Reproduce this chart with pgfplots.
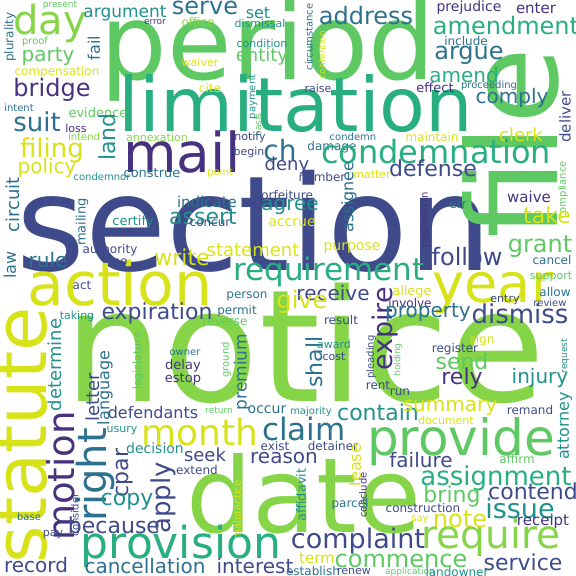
\documentclass[border=0pt]{standalone}
\usepackage{pgfplots}
\pgfplotsset{compat=1.18}
\usepackage{fontspec}
\setmainfont{DejaVu Sans}
\definecolor{P}{HTML}{46327E}
\definecolor{B}{HTML}{3E4A89}
\definecolor{E}{HTML}{2C718E}
\definecolor{T}{HTML}{21918C}
\definecolor{M}{HTML}{28AE80}
\definecolor{G}{HTML}{5EC962}
\definecolor{L}{HTML}{86D549}
\definecolor{Y}{HTML}{D8E219}
\newcommand\W[6]{\node[rotate=#4,text=#5,inner sep=0pt,anchor=center,font=\fontsize{#3bp}{#3bp}\selectfont] at (axis cs:#1,#2) {#6};}
\newcommand\B[5]{\node[text=#4,inner sep=0pt,anchor=base,font=\fontsize{#3bp}{#3bp}\selectfont] at (axis cs:#1,#2) {#5};}
\begin{document}
\begin{tikzpicture}
\begin{axis}[hide axis, scale only axis, width=576bp, height=576bp,
  xmin=0,xmax=576,ymin=0,ymax=576,y dir=reverse, clip=false]
\addplot[draw=none] coordinates {(0,0) (576,576)};
% big words
\B{254}{270}{132}{B}{section}
\B{305}{401}{156}{L}{notice}
\B{268}{80}{105}{G}{period}
\B{296}{131}{75}{M}{limitation}
\W{511}{143}{125}{90}{G}{file}
\B{304}{532}{104}{L}{date}
\W{22}{435}{72}{90}{Y}{statute}
\B{120}{305}{60}{Y}{action}
\B{493}{302}{54}{Y}{year}
\B{461}{455}{50}{G}{provide}
\B{182}{172}{55}{P}{mail}
\B{181}{558}{44}{M}{provision}
\B{491}{548}{39}{L}{require}
\B{50}{35}{40}{L}{day}
\B{329}{280}{31}{M}{requirement}
\W{61}{476}{37}{90}{P}{motion}
\W{95}{475}{40}{90}{E}{right}
\B{200}{445}{36}{Y}{month}
\B{304}{440}{31}{E}{claim}
\W{385}{329}{27}{90}{P}{expire}
\W{163}{498}{26}{90}{B}{apply}
\W{125}{473}{22}{90}{B}{cpar}
% top-left
\W{60}{5}{9}{0}{G}{present}
\W{125}{13}{17}{0}{T}{argument}
\W{205}{8}{24}{0}{E}{serve}
\W{258}{13}{16}{0}{T}{set}
\W{10}{37}{12}{90}{E}{plurality}
\W{155}{22}{9}{0}{P}{error}
\W{198}{22}{12}{0}{L}{office}
\W{260}{23}{11}{0}{T}{dismissal}
\W{35}{42}{10}{0}{G}{proof}
\W{48}{57}{20}{0}{G}{party}
\W{94}{48}{16}{90}{E}{fail}
\W{200}{62}{11}{0}{Y}{waiver}
\W{262}{43}{11}{0}{T}{condition}
\W{262}{57}{18}{0}{G}{entity}
\W{57}{72}{12}{0}{Y}{compensation}
\W{52}{90}{24}{0}{P}{bridge}
\W{210}{88}{12}{0}{Y}{cite}
\W{253}{97}{10}{90}{T}{payment}
\W{19}{108}{10}{0}{E}{intent}
\W{98}{113}{13}{0}{G}{evidence}
\W{37}{122}{26}{0}{E}{suit}
\W{107}{137}{22}{90}{T}{land}
\W{258}{125}{9}{90}{G}{basis}
\W{76}{128}{11}{0}{P}{loss}
\W{84}{137}{10}{0}{L}{intend}
\W{157}{137}{11}{0}{L}{annexation}
\W{250}{137}{11}{0}{B}{notify}
\W{52}{150}{26}{0}{Y}{filing}
\W{249}{152}{11}{0}{B}{begin}
\W{280}{150}{28}{0}{E}{ch}
\W{47}{168}{20}{0}{Y}{policy}
\W{102}{177}{10}{0}{T}{condemnor}
\W{152}{173}{13}{0}{E}{construe}
\W{220}{173}{10}{0}{Y}{point}
\W{287}{166}{18}{0}{B}{deny}
\W{13}{205}{18}{90}{E}{circuit}
\W{82}{222}{13}{90}{E}{mailing}
\W{207}{202}{15}{0}{E}{indicate}
\W{285}{195}{12}{0}{B}{forfeiture}
\W{203}{217}{22}{0}{T}{assert}
\W{290}{207}{20}{0}{T}{agree}
\W{133}{222}{13}{0}{T}{certify}
\W{210}{223}{12}{0}{B}{concur}
\W{292}{223}{14}{0}{Y}{accrue}
\W{110}{250}{12}{0}{B}{authority}
\W{120}{262}{12}{0}{B}{no}
\W{48}{260}{20}{0}{E}{rule}
\W{182}{257}{22}{0}{Y}{write}
\W{253}{250}{18}{0}{Y}{statement}
\W{10}{265}{16}{90}{E}{law}
\W{82}{285}{12}{0}{B}{act}
% top-right
\W{366}{16}{24}{0}{E}{address}
\W{469}{8}{14}{0}{P}{prejudice}
\W{536}{8}{15}{0}{P}{enter}
\W{309}{37}{10}{90}{E}{circumstance}
\W{322}{55}{9}{90}{Y}{contention}
\W{506}{26}{24}{0}{M}{amendment}
\W{466}{41}{12}{0}{E}{include}
\W{469}{55}{24}{0}{E}{argue}
\W{464}{75}{20}{0}{M}{amend}
\W{318}{88}{11}{0}{B}{raise}
\W{435}{88}{13}{0}{P}{effect}
\W{489}{86}{10}{0}{E}{proceeding}
\W{512}{98}{20}{0}{E}{comply}
\W{565}{117}{15}{90}{B}{deliver}
\W{521}{135}{18}{0}{Y}{clerk}
\W{432}{137}{12}{0}{Y}{maintain}
\W{353}{137}{10}{0}{E}{condemn}
\W{332}{147}{12}{0}{E}{damage}
\W{436}{152}{32}{0}{M}{condemnation}
\W{433}{168}{22}{0}{B}{defense}
\W{563}{190}{10}{90}{G}{compliance}
\W{322}{177}{12}{0}{B}{number}
\W{372}{175}{11}{0}{Y}{matter}
\W{349}{197}{16}{90}{E}{assignee}
\W{425}{220}{10}{90}{P}{possession}
\W{529}{197}{15}{0}{P}{waive}
\W{458}{205}{12}{0}{E}{err}
\W{547}{215}{22}{0}{Y}{take}
\W{540}{247}{24}{0}{G}{grant}
\W{467}{257}{24}{0}{B}{follow}
\W{352}{248}{14}{0}{Y}{purpose}
\W{552}{260}{12}{0}{E}{cancel}
\W{551}{277}{11}{0}{G}{support}
\W{333}{293}{20}{0}{B}{receive}
\W{412}{292}{13}{0}{Y}{allege}
% bottom-left
\W{247}{296}{12}{0}{E}{person}
\W{237}{311}{12}{0}{E}{permit}
\W{225}{322}{12}{0}{G}{reverse}
\W{157}{313}{22}{0}{B}{expiration}
\W{77}{316}{11}{0}{T}{taking}
\W{55}{365}{18}{90}{T}{determine}
\W{138}{361}{11}{90}{G}{legislature}
\W{185}{353}{10}{0}{E}{owner}
\W{183}{366}{13}{0}{P}{delay}
\W{183}{379}{13}{0}{P}{estop}
\W{226}{360}{10}{90}{G}{ground}
\W{242}{372}{17}{90}{E}{premium}
\W{93}{397}{18}{90}{B}{letter}
\W{105}{388}{16}{90}{E}{language}
\W{153}{413}{16}{0}{B}{defendants}
\W{219}{410}{9}{0}{G}{return}
\W{267}{410}{14}{0}{E}{occur}
\W{122}{431}{11}{0}{T}{usury}
\W{155}{448}{14}{0}{T}{decision}
\W{275}{446}{12}{0}{B}{exist}
\W{284}{458}{20}{0}{B}{reason}
\W{205}{455}{18}{0}{B}{seek}
\W{197}{470}{12}{0}{B}{extend}
\W{75}{515}{10}{90}{B}{consider}
\W{238}{510}{10}{90}{Y}{malpractice}
\W{127}{502}{22}{0}{T}{copy}
\W{114}{525}{22}{0}{B}{because}
\W{29}{517}{10}{0}{E}{base}
\W{53}{535}{11}{0}{B}{pay}
\W{36}{565}{20}{0}{B}{record}
\W{145}{566}{20}{0}{E}{cancellation}
\W{255}{566}{20}{0}{B}{interest}
% bottom-right
\W{302}{302}{24}{0}{Y}{give}
\W{410}{303}{12}{0}{P}{involve}
\W{505}{300}{11}{0}{B}{entry}
\W{555}{292}{12}{0}{E}{allow}
\W{550}{303}{10}{0}{B}{review}
\W{428}{313}{20}{0}{E}{property}
\W{520}{314}{26}{0}{B}{dismiss}
\W{341}{320}{12}{0}{B}{result}
\W{314}{362}{22}{90}{E}{shall}
\W{371}{357}{10}{90}{B}{pleading}
\W{398}{360}{9}{90}{G}{holding}
\W{334}{344}{11}{0}{T}{award}
\W{334}{357}{11}{0}{B}{cost}
\W{482}{340}{12}{0}{Y}{sign}
\W{455}{349}{12}{0}{B}{register}
\W{565}{356}{9}{90}{T}{request}
\W{462}{361}{22}{0}{G}{send}
\W{462}{378}{22}{0}{P}{rely}
\W{540}{378}{20}{0}{T}{injury}
\W{378}{385}{12}{0}{B}{rent}
\W{400}{392}{12}{0}{B}{run}
\W{565}{426}{16}{90}{T}{attorney}
\W{378}{412}{22}{0}{T}{contain}
\W{450}{408}{20}{0}{Y}{summary}
\W{311}{412}{10}{0}{T}{majority}
\W{446}{420}{11}{0}{Y}{document}
\W{530}{410}{12}{0}{B}{remand}
\W{333}{446}{12}{0}{B}{detainer}
\W{355}{465}{16}{90}{Y}{lease}
\W{421}{460}{20}{0}{B}{failure}
\W{517}{459}{12}{0}{G}{affirm}
\W{301}{495}{13}{90}{T}{affidavit}
\W{363}{495}{10}{90}{P}{conclude}
\W{496}{478}{26}{0}{M}{assignment}
\W{533}{491}{22}{0}{B}{contend}
\W{452}{496}{22}{0}{G}{bring}
\W{520}{508}{27}{0}{T}{issue}
\W{350}{504}{12}{0}{E}{parcel}
\W{423}{508}{12}{0}{B}{construction}
\W{460}{519}{24}{0}{Y}{note}
\W{420}{520}{10}{0}{Y}{say}
\W{543}{521}{15}{0}{P}{receipt}
\W{358}{541}{27}{0}{B}{complaint}
\W{317}{558}{15}{0}{Y}{term}
\W{401}{561}{24}{0}{G}{commence}
\W{523}{562}{22}{0}{B}{service}
\W{313}{571}{12}{0}{E}{establish}
\W{354}{571}{11}{0}{B}{renew}
\W{410}{572}{9}{0}{G}{application}
\W{457}{572}{12}{0}{T}{landowner}
\end{axis}
\pgfresetboundingbox
\useasboundingbox (0,0) rectangle (576bp,576bp);
\end{tikzpicture}
\end{document}
